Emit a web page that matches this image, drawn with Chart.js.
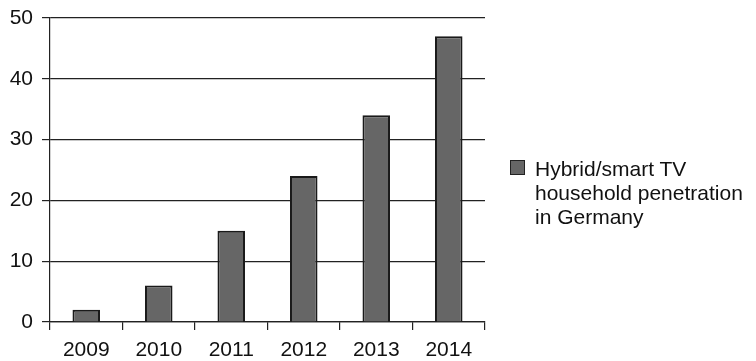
<!DOCTYPE html>
<html>
<head>
<meta charset="utf-8">
<script src="https://cdn.jsdelivr.net/npm/chart.js@4"></script>
<style>
  html, body { margin: 0; padding: 0; background: #fff; }
  #wrap { position: relative; width: 756px; height: 361px; }
  #legend {
    position: absolute; left: 510px; top: 157px;
    font-family: "Liberation Sans", Arial, sans-serif; font-size: 21px;
    line-height: 24px; color: #111;
  }
  #legend .box {
    position: absolute; left: 0; top: 3px; width: 13px; height: 13px;
    background: #666; border: 1px solid #222;
  }
  #legend .text { margin-left: 25px; }
</style>
</head>
<body>
<div id="wrap">
  <canvas id="chart" width="756" height="361"></canvas>
  <div id="legend"><span class="box"></span><div class="text"></div></div>
</div>
<script>
const years = ["2009", "2010", "2011", "2012", "2013", "2014"];
const penetration = [2, 6, 15, 24, 34, 47];
const seriesLabel = ["Hybrid/smart TV", "household penetration", "in Germany"];

document.querySelector("#legend .text").innerHTML = seriesLabel.join("<br>");

const font = { family: "'Liberation Sans', Arial, sans-serif", size: 21 };

new Chart(document.getElementById("chart"), {
  type: "bar",
  data: {
    labels: years,
    datasets: [{
      label: seriesLabel.join(" "),
      data: penetration,
      backgroundColor: "#666666",
      borderColor: "#1a1a1a",
      borderWidth: 2,
      categoryPercentage: 1,
      barPercentage: 0.38,
    }],
  },
  options: {
    responsive: false,
    animation: false,
    layout: { padding: { left: 0, top: 18, right: 271, bottom: 0 } },
    plugins: { legend: { display: false }, tooltip: { enabled: false } },
    scales: {
      x: {
        offset: true,
        grid: { offset: true, drawOnChartArea: false, tickLength: 8, color: "#222", lineWidth: 1.2 },
        border: { color: "#222", width: 1.2 },
        ticks: { color: "#111", font, padding: 8, maxRotation: 0 },
        afterFit: (s) => { s.height = 39; s.paddingLeft = 0; s.paddingRight = 0; },
      },
      y: {
        min: 0,
        max: 50,
        ticks: { stepSize: 10, color: "#111", font, padding: 9 },
        grid: { color: "#222", lineWidth: 1.2, tickLength: 8 },
        border: { color: "#222", width: 1.2 },
        // fixed axis width; label overflow is covered by the layout padding
        afterFit: (s) => { s.width = 50; s.paddingTop = 0; s.paddingBottom = 0; },
      },
    },
  },
});
</script>
</body>
</html>
